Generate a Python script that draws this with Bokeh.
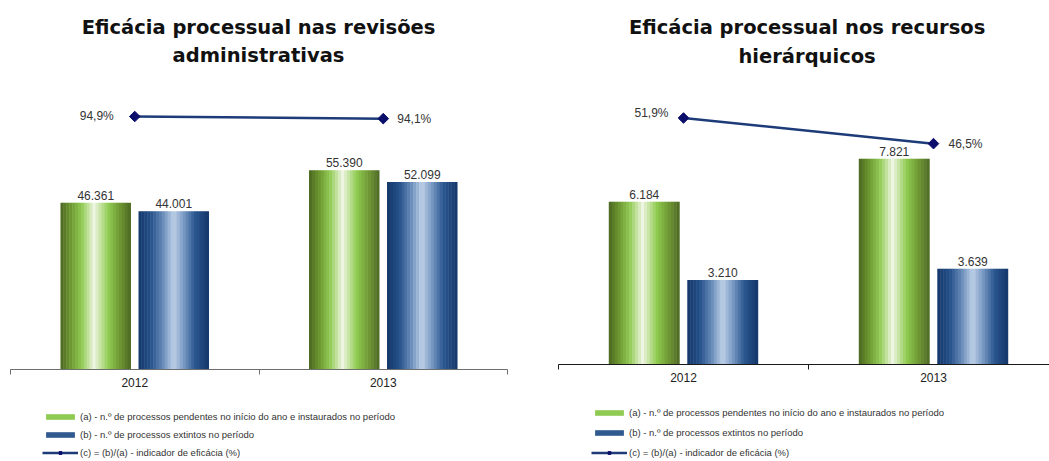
import math
from bokeh.plotting import figure
from bokeh.layouts import row, column
from bokeh.models import Range1d, FixedTicker, Legend, LegendItem
from bokeh.embed import file_html
from bokeh.resources import INLINE
from bokeh.core.properties import value

# ---------------- data ----------------
years = ["2012", "2013"]

rev_title = ["Eficácia processual nas revisões", "administrativas"]
rev_pending = [46361, 55390]
rev_closed = [44001, 52099]
rev_eff = [94.9, 94.1]

rec_title = ["Eficácia processual nos recursos", "hierárquicos"]
rec_pending = [6184, 7821]
rec_closed = [3210, 3639]
rec_eff = [51.9, 46.5]

legend_labels = [
    "(a) - n.º de processos pendentes no início do ano e instaurados no período",
    "(b) - n.º de processos extintos no período",
    "(c) = (b)/(a) - indicador de eficácia (%)",
]

# ---------------- styling helpers ----------------
GREEN_STOPS = [(0.0, "#4b6622"), (0.14, "#6c9630"), (0.3, "#8fca52"), (0.41, "#c9e4a8"),
               (0.48, "#eef6e4"), (0.56, "#c9e4a8"), (0.68, "#8fcc50"), (0.86, "#6c9432"),
               (1.0, "#4d6824")]
BLUE_STOPS = [(0.0, "#14376a"), (0.17, "#244f88"), (0.35, "#6a8dbb"), (0.5, "#bed0e7"),
              (0.63, "#7d9dc6"), (0.8, "#2c5890"), (1.0, "#13366a")]
NSTRIP = 24
BAR_W = 0.282
BAR_OFF = 0.157
FONT = "Liberation Sans"
TITLE_FONT = "DejaVu Sans"
LINE_COLOR = "#1c3b78"
MARK_COLOR = "#0b0f6b"
NAN = float("nan")
TITLE_H = 74


def h2rgb(h):
    h = h.lstrip("#")
    return tuple(int(h[i:i + 2], 16) for i in (0, 2, 4))


def grad(stops, t):
    for (t0, c0), (t1, c1) in zip(stops[:-1], stops[1:]):
        if t0 <= t <= t1:
            f = (t - t0) / (t1 - t0) if t1 > t0 else 0
            a, b = h2rgb(c0), h2rgb(c1)
            return "#%02x%02x%02x" % tuple(int(round(a[i] + (b[i] - a[i]) * f)) for i in range(3))
    return stops[-1][1]


def thousands(v):
    return f"{v:,}".replace(",", ".")


def pct(v):
    return f"{v:.1f}%".replace(".", ",")


def blank(width, height):
    q = figure(width=width, height=height, title=None, toolbar_location=None,
               output_backend="svg", x_axis_type=None, y_axis_type=None,
               x_range=Range1d(0, width), y_range=Range1d(0, height),
               min_border_left=0, min_border_right=0, min_border_top=0, min_border_bottom=0)
    q.outline_line_color = None
    q.grid.visible = False
    return q


def build_title(lines, *, width, center_x, line_centers):
    # screen-pixel ranges: y measured from the bottom of this strip
    q = blank(width, TITLE_H)
    q.text(x=[center_x] * len(lines), y=[TITLE_H - c for c in line_centers], text=lines,
           text_align="center", text_baseline="middle", text_font=value(TITLE_FONT),
           text_font_size="19.5px", text_font_style="bold", text_color="#111111")
    return q


def build(pending, closed, eff, *, width, height, border_left, border_right,
          x_end, y_end, y2_end, axis_color, eff_off):
    p = figure(width=width, height=height, title=None, toolbar_location=None,
               output_backend="svg", x_range=Range1d(0, x_end), y_range=Range1d(0, y_end),
               min_border_left=border_left, min_border_right=border_right,
               min_border_top=10, min_border_bottom=22)
    p.extra_y_ranges = {"eff": Range1d(0, y2_end)}
    p.outline_line_color = None
    p.grid.visible = False
    p.yaxis.visible = False

    centers = [i + 0.5 for i in range(len(years))]

    for series, stops, sign in ((pending, GREEN_STOPS, -1), (closed, BLUE_STOPS, 1)):
        for k in range(NSTRIP):
            t = (k + 0.5) / NSTRIP
            xs = [c + sign * BAR_OFF - BAR_W / 2 + (k + 0.5) * BAR_W / NSTRIP for c in centers]
            p.vbar(x=xs, top=series, width=BAR_W / NSTRIP * 1.15, bottom=0,
                   fill_color=grad(stops, t), line_color=None)

    for series, sign in ((pending, -1), (closed, 1)):
        p.text(x=[c + sign * BAR_OFF for c in centers], y=series,
               text=[thousands(v) for v in series], text_align="center",
               text_baseline="bottom", y_offset=-3, text_font=value(FONT),
               text_font_size="12px", text_color="#333333")

    p.line(x=centers, y=eff, y_range_name="eff", line_color=LINE_COLOR, line_width=2.5)
    p.scatter(x=centers, y=eff, y_range_name="eff", marker="square", angle=math.pi / 4,
              size=7.5, fill_color=MARK_COLOR, line_color=MARK_COLOR)
    (dx0, dy0), (dx1, dy1) = eff_off
    p.text(x=centers[:1], y=eff[:1], y_range_name="eff", text=[pct(eff[0])],
           text_align="right", text_baseline="middle", x_offset=dx0, y_offset=dy0,
           text_font=value(FONT), text_font_size="12px", text_color="#333333")
    p.text(x=centers[1:], y=eff[1:], y_range_name="eff", text=[pct(eff[1])],
           text_align="left", text_baseline="middle", x_offset=dx1, y_offset=dy1,
           text_font=value(FONT), text_font_size="12px", text_color="#333333")

    ax = p.xaxis[0]
    ax.ticker = FixedTicker(ticks=centers, minor_ticks=[float(i) for i in range(len(years) + 1)])
    ax.major_label_overrides = {c: y for c, y in zip(centers, years)}
    ax.major_tick_out = 0
    ax.major_tick_in = 0
    ax.minor_tick_out = 5
    ax.minor_tick_in = 0
    ax.minor_tick_line_color = axis_color
    ax.axis_line_color = axis_color
    ax.axis_line_width = 1.2
    ax.major_label_standoff = 3
    ax.major_label_text_font = FONT
    ax.major_label_text_font_size = "12px"
    ax.major_label_text_color = "#222222"
    return p


def build_legend(*, width, height, loc, spacing):
    q = blank(width, height)
    # legend-only renderers (no visible data)
    rg = q.vbar(x=[NAN], top=[NAN], width=0.1, fill_color=grad(GREEN_STOPS, 0.3), line_color=None)
    rb = q.vbar(x=[NAN], top=[NAN], width=0.1, fill_color=grad(BLUE_STOPS, 0.2), line_color=None)
    rl = q.line(x=[NAN], y=[NAN], line_color=LINE_COLOR, line_width=2.5)
    rm = q.scatter(x=[NAN], y=[NAN], marker="square", angle=math.pi / 4, size=6,
                   fill_color=MARK_COLOR, line_color=MARK_COLOR)
    legend = Legend(items=[
        LegendItem(label=legend_labels[0], renderers=[rg]),
        LegendItem(label=legend_labels[1], renderers=[rb]),
        LegendItem(label=legend_labels[2], renderers=[rl, rm]),
    ], location=loc, orientation="vertical", margin=0, padding=2,
        spacing=spacing, label_height=13, glyph_height=7, glyph_width=36,
        label_standoff=2, label_text_font=FONT, label_text_font_size="9.5px",
        label_text_color="#333333", border_line_color=None, background_fill_alpha=0)
    q.add_layout(legend, "center")
    return q


left_title = build_title(rev_title, width=540, center_x=269.5, line_centers=(27, 55))
left = build(rev_pending, rev_closed, rev_eff, width=540, height=391 - TITLE_H,
             border_left=10, border_right=33, x_end=2.0, y_end=79210, y2_end=106.9,
             axis_color="#6e6e6e", eff_off=((-21, 0), (14, 0)))
left_leg = build_legend(width=540, height=70, loc=(32, 2), spacing=5)

right_title = build_title(rec_title, width=509, center_x=257.7, line_centers=(27, 56))
right = build(rec_pending, rec_closed, rec_eff, width=509, height=386 - TITLE_H,
              border_left=18, border_right=0, x_end=1.964, y_end=10646, y2_end=58.95,
              axis_color="#1a1a1a", eff_off=((-15, -5), (15, 0)))
right_leg = build_legend(width=509, height=75, loc=(33, 2), spacing=7)

layout = row(column(left_title, left, left_leg), column(right_title, right, right_leg))
open("out.html", "w").write(file_html(layout, INLINE))
